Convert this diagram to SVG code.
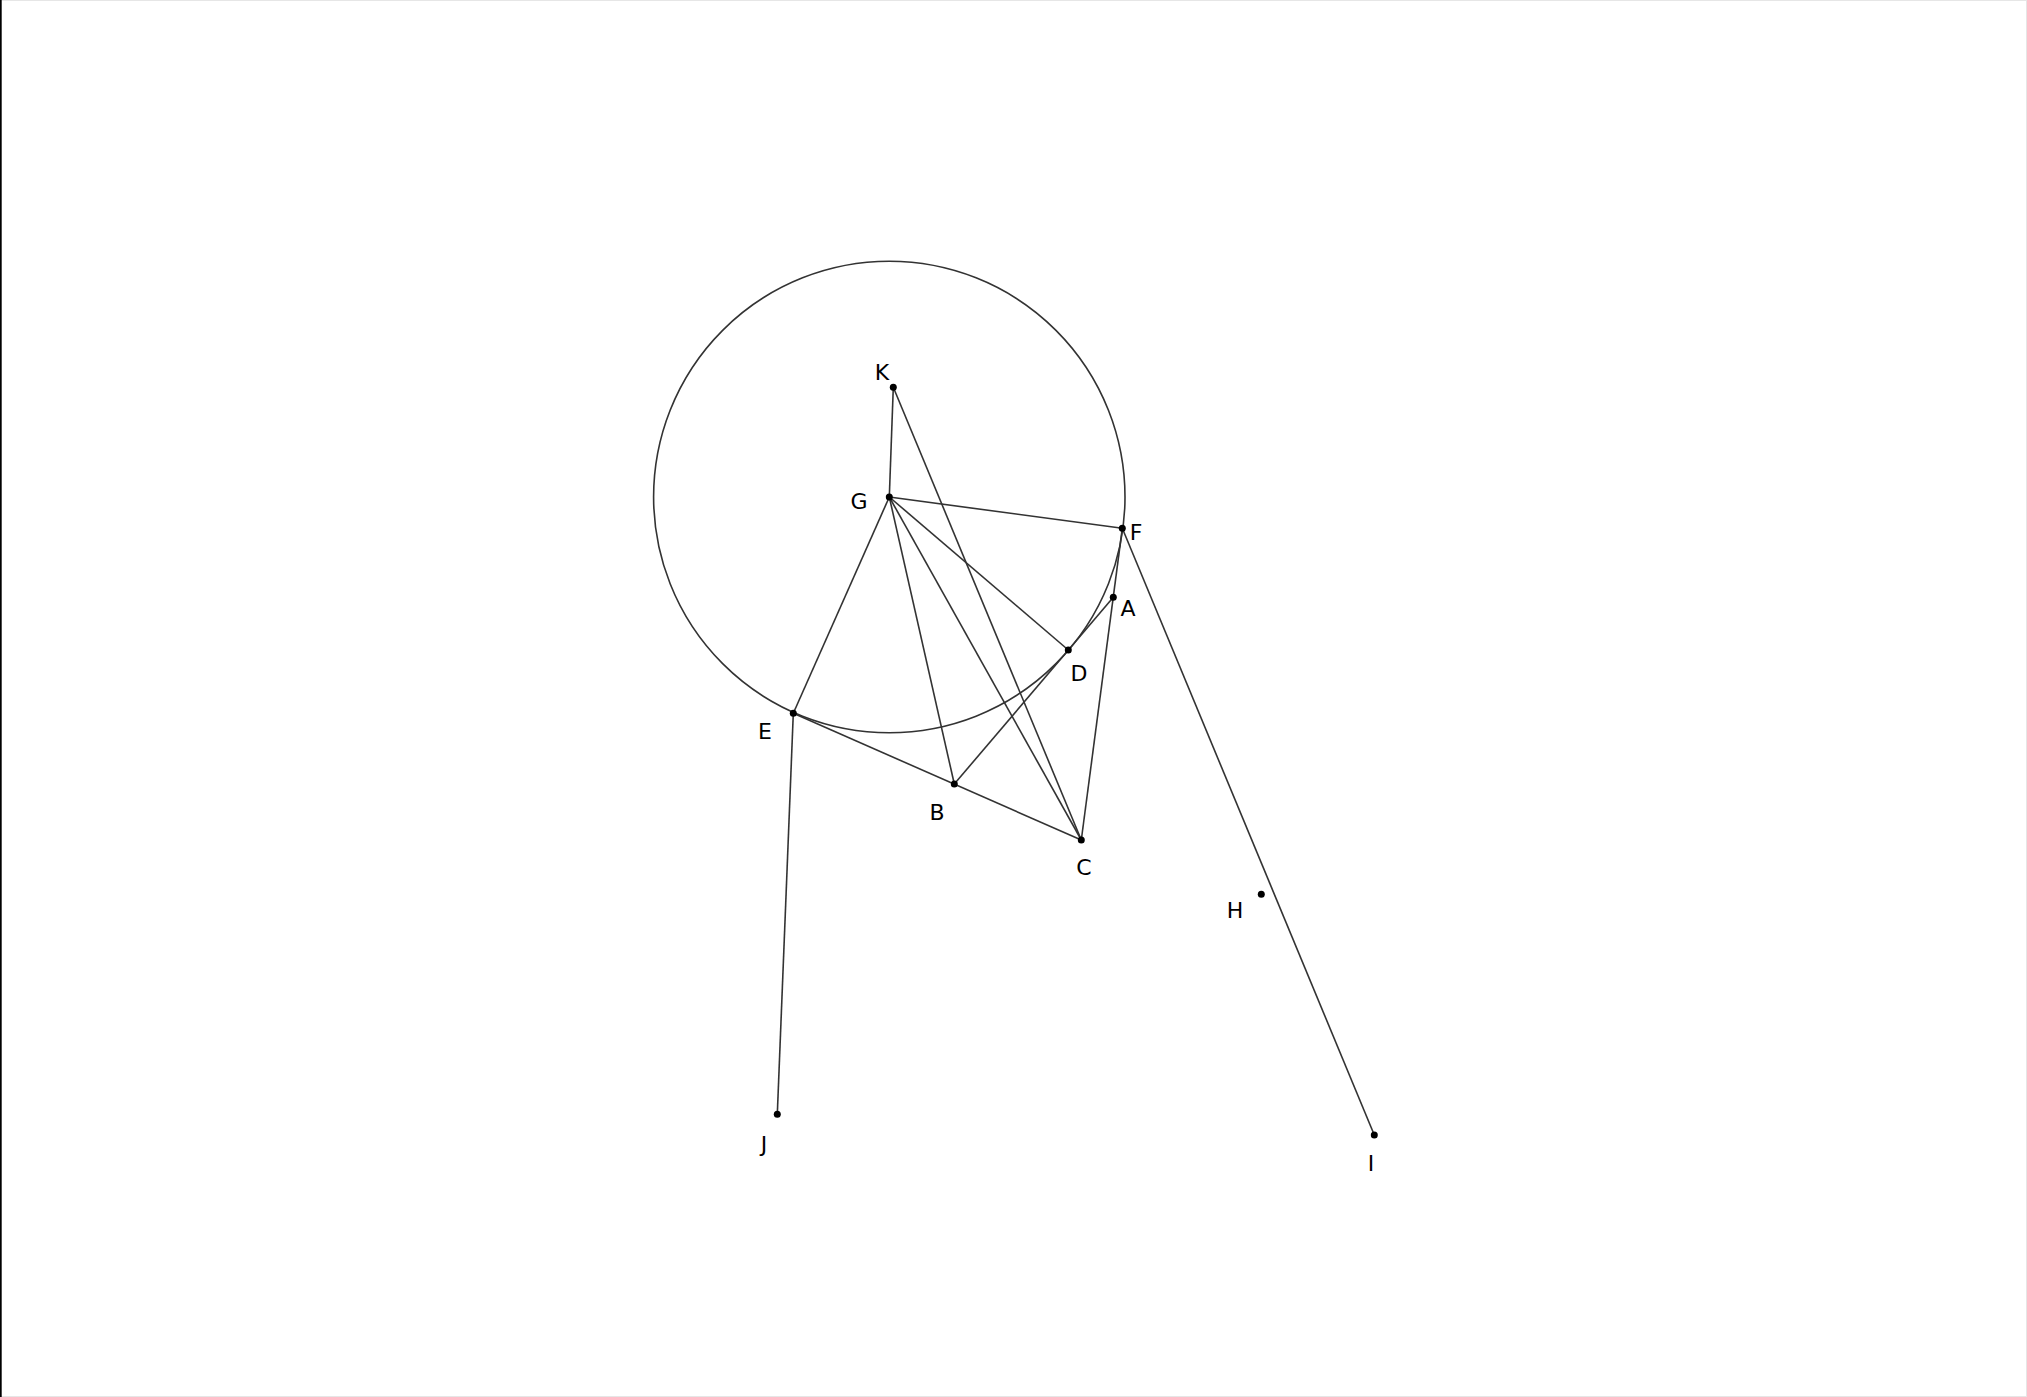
<svg xmlns="http://www.w3.org/2000/svg" width="2027" height="1397" viewBox="0 0 2027 1397">
<style>
.l{stroke:#333;stroke-width:1.6;fill:none}
.p{fill:#000}
.t{font-family:"DejaVu Sans",sans-serif;font-size:22px;fill:#000;text-anchor:middle;dominant-baseline:central}
</style>
<rect x="0" y="0" width="2027" height="1397" fill="#fff"/>
<line x1="0" y1="0.5" x2="2027" y2="0.5" stroke="#e6e6e6" stroke-width="1"/>
<line x1="2026.5" y1="0" x2="2026.5" y2="1397" stroke="#e6e6e6" stroke-width="1"/>
<line x1="0" y1="1396.5" x2="2027" y2="1396.5" stroke="#e6e6e6" stroke-width="1"/>
<line x1="0.8" y1="0" x2="0.8" y2="1397" stroke="#000" stroke-width="1.8"/>
<g id="connectors">
<circle class="l" cx="889.3" cy="497" r="235.7"/>
<line class="l" x1="893.3" y1="387.3" x2="889.3" y2="497"/>
<line class="l" x1="893.3" y1="387.3" x2="1081.3" y2="840"/>
<line class="l" x1="889.3" y1="497" x2="1122.3" y2="528.3"/>
<line class="l" x1="889.3" y1="497" x2="793.3" y2="713.3"/>
<line class="l" x1="889.3" y1="497" x2="954.3" y2="784"/>
<line class="l" x1="889.3" y1="497" x2="1081.3" y2="840"/>
<line class="l" x1="889.3" y1="497" x2="1068.3" y2="650"/>
<line class="l" x1="1122.3" y1="528.3" x2="1081.3" y2="840"/>
<line class="l" x1="954.3" y1="784" x2="1113.3" y2="597.3"/>
<line class="l" x1="793.3" y1="713.3" x2="1081.3" y2="840"/>
<line class="l" x1="793.3" y1="713.3" x2="777.3" y2="1114.3"/>
<line class="l" x1="1122.3" y1="528.3" x2="1374.3" y2="1135"/>
</g>
<g id="K"><circle class="p" cx="893.3" cy="387.3" r="3.5"/><text class="t" x="882" y="372">K</text></g>
<g id="G"><circle class="p" cx="889.3" cy="497" r="3.5"/><text class="t" x="859" y="501">G</text></g>
<g id="F"><circle class="p" cx="1122.3" cy="528.3" r="3.5"/><text class="t" x="1136" y="532">F</text></g>
<g id="A"><circle class="p" cx="1113.3" cy="597.3" r="3.5"/><text class="t" x="1128" y="608">A</text></g>
<g id="D"><circle class="p" cx="1068.3" cy="650" r="3.5"/><text class="t" x="1079" y="673">D</text></g>
<g id="E"><circle class="p" cx="793.3" cy="713.3" r="3.5"/><text class="t" x="765" y="731">E</text></g>
<g id="B"><circle class="p" cx="954.3" cy="784" r="3.5"/><text class="t" x="937" y="812">B</text></g>
<g id="C"><circle class="p" cx="1081.3" cy="840" r="3.5"/><text class="t" x="1084" y="867">C</text></g>
<g id="H"><circle class="p" cx="1261.3" cy="894.3" r="3.5"/><text class="t" x="1235" y="910">H</text></g>
<g id="J"><circle class="p" cx="777.3" cy="1114.3" r="3.5"/><text class="t" x="764" y="1144">J</text></g>
<g id="I"><circle class="p" cx="1374.3" cy="1135" r="3.5"/><text class="t" x="1371" y="1163">I</text></g>
</svg>
